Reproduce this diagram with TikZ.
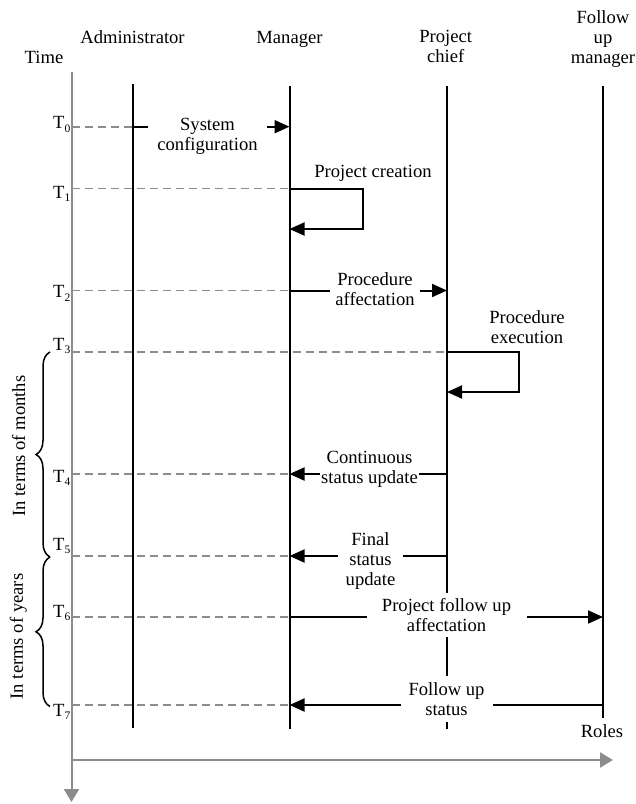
\documentclass[tikz,border=0pt]{standalone}
\usepackage{fontspec}
\setmainfont{Liberation Serif}
\usetikzlibrary{arrows.meta,decorations.pathreplacing}
\definecolor{axisgray}{RGB}{140,140,140}
% time label with a lowered index
\newcommand\Tsub[1]{T\raisebox{-3.5pt}{\fontsize{11.5}{12}\selectfont #1}}
\begin{document}
\begin{tikzpicture}[x=1pt,y=-1pt,
  every node/.style={font=\fontsize{18.6}{20}\selectfont, inner sep=0pt},
  lifeline/.style={line width=2pt, black},
  msg/.style={line width=2pt, black, -{Triangle[length=15pt,width=13pt]}},
  guide/.style={axisgray, line width=1.6pt, dash pattern=on 8pt off 5pt},
  axis/.style={axisgray, line width=2pt, -{Triangle[length=13pt,width=15pt]}},
  msglabel/.style={fill=white, align=center},
  heading/.style={align=center},
  tick/.style={anchor=base east},
  periodbrace/.style={decorate, decoration={brace, amplitude=14pt}, line width=1.5pt},
]
\useasboundingbox (0,0) rectangle (636,804);

% axes: time downwards, roles to the right
\coordinate (t-top) at (71.5,72);
\coordinate (t-end) at (71.5,802);
\coordinate (r-start) at (71.5,760);
\coordinate (r-end) at (613,760);
\draw[axis] (t-top) -- (t-end);
\draw[axis] (r-start) -- (r-end);

% headings
\node[anchor=base] (time) at (44,63) {Time};
\node[anchor=base] (adm) at (132.5,43) {Administrator};
\node[anchor=base] (man) at (289.5,43) {Manager};
\node[heading] (chf) at (445.7,46.7) {Project\\chief};
\node[heading] (fum) at (603,38.7) {Follow\\up\\manager};
\node[anchor=base] (roles) at (602,737) {Roles};

% lifelines
\coordinate (adm-top) at (133,84);    \coordinate (adm-bot) at (133,728);
\coordinate (man-top) at (289.5,86);  \coordinate (man-bot) at (289.5,729);
\coordinate (chf-top) at (447,86);    \coordinate (chf-bot) at (447,729);
\coordinate (fum-top) at (603,86);    \coordinate (fum-bot) at (603,718);
\draw[lifeline] (adm-top) -- (adm-bot);
\draw[lifeline] (man-top) -- (man-bot);
\draw[lifeline] (chf-top) -- (chf-bot);
\draw[lifeline] (fum-top) -- (fum-bot);

% instants on the time axis
\foreach \i/\y in {0/126.7,1/188.5,2/290.5,3/351.7,4/474,5/556,6/617,7/705}{
  \coordinate (g\i) at (71.5,\y);
  \coordinate (a\i) at (133,\y);
  \coordinate (m\i) at (289.5,\y);
  \coordinate (c\i) at (447,\y);
  \coordinate (f\i) at (603,\y);
}
\node[tick] (T0) at (70.5,128.5) {\Tsub{0}};
\node[tick] (T1) at (70.5,198) {\Tsub{1}};
\node[tick] (T2) at (70.5,297.5) {\Tsub{2}};
\node[tick] (T3) at (70.5,350) {\Tsub{3}};
\node[tick] (T4) at (70.5,482) {\Tsub{4}};
\node[tick] (T5) at (70.5,550) {\Tsub{5}};
\node[tick] (T6) at (70.5,617) {\Tsub{6}};
\node[tick] (T7) at (70.5,716) {\Tsub{7}};

% guides from the axis to the acting role
\draw[guide] (g0) -- (a0);
\draw[guide] (g1) -- (m1);
\draw[guide] (g2) -- (m2);
\draw[guide] (g3) -- (c3);
\draw[guide] (g4) -- (m4);
\draw[guide] (g5) -- (m5);
\draw[guide] (g6) -- (m6);
\draw[guide] (g7) -- (m7);

% messages
\coordinate (loop1) at (362.5,229);  \coordinate (m1r) at (289.5,229);
\coordinate (loop3) at (519,392);    \coordinate (c3r) at (447,392);
\draw[msg] (a0) -- (m0);
\draw[msg] (m1) -| (loop1) -- (m1r);
\draw[msg] (m2) -- (c2);
\draw[msg] (c3) -| (loop3) -- (c3r);
\draw[msg] (c4) -- (m4);
\draw[msg] (c5) -- (m5);
\draw[msg] (m6) -- (f6);
\draw[msg] (f7) -- (m7);

% message labels
\node[msglabel, minimum width=119pt, minimum height=44pt] (lab0) at (207.5,136.5) {System\\configuration};
\node (lab1) at (373,173.5) {Project creation};
\node[msglabel, minimum width=90pt, minimum height=40pt] (lab2) at (375,289) {Procedure\\affectation};
\node[heading] (lab3) at (527,327.5) {Procedure\\execution};
\node[msglabel, minimum width=99pt, minimum height=40pt] (lab4) at (369.5,469) {Continuous\\status update};
\node[msglabel, minimum width=65pt, minimum height=62pt] (lab5) at (370.5,561.5) {Final\\status\\update};
\node[msglabel, minimum width=160pt, minimum height=44pt] (lab6) at (446.5,615) {Project follow up\\affectation};
\node[msglabel, minimum width=92pt, minimum height=46pt] (lab7) at (446.5,699) {Follow up\\status};

% periods
\coordinate (br3) at (50,352);
\coordinate (br5) at (50,557);
\coordinate (br7) at (50,706.5);
\draw[periodbrace] (br5) -- (br3);
\draw[periodbrace] (br7) -- (br5);
\node[rotate=90, anchor=base] (months) at (25,446) {In terms of months};
\node[rotate=90, anchor=base] (years) at (23,636.5) {In terms of years};
\end{tikzpicture}
\end{document}
